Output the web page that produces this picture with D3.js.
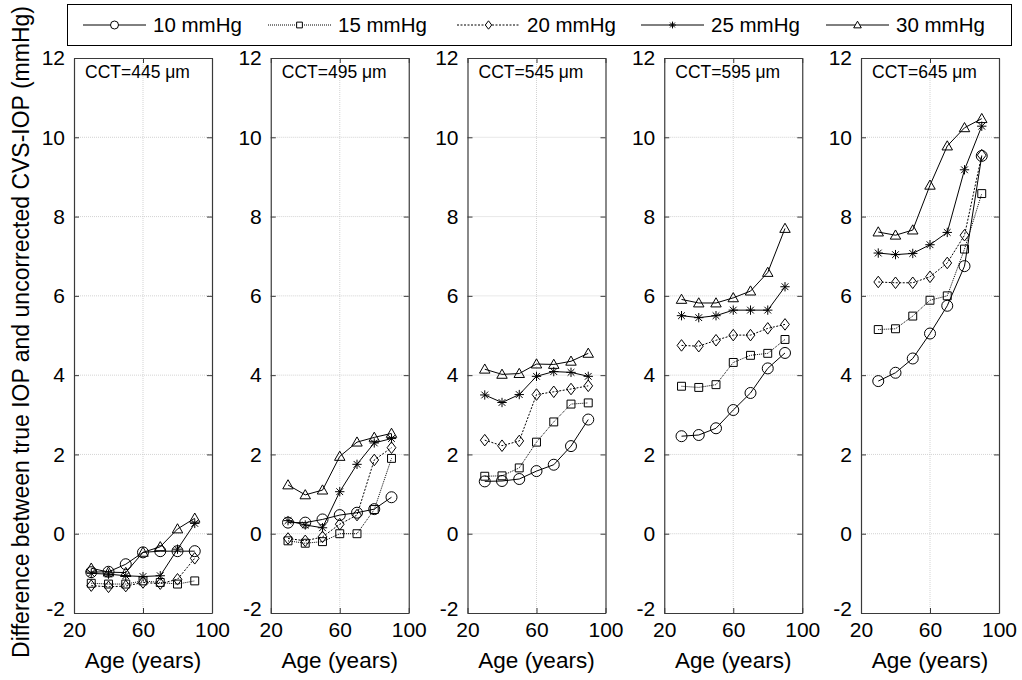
<!DOCTYPE html>
<html>
<head>
<meta charset="utf-8">
<script src="https://cdn.jsdelivr.net/npm/d3@7"></script>
<style>
  html, body { margin: 0; padding: 0; background: #fff; }
  svg { display: block; font-family: "Liberation Sans", Arial, sans-serif; }
</style>
</head>
<body>
<svg id="chart" width="1022" height="680"></svg>
<script>
// Ages at which the difference was evaluated
const ages = [30, 40, 50, 60, 70, 80, 90];

// Central corneal thickness of each panel (µm)
const cctValues = [445, 495, 545, 595, 645];

// True IOP levels (legend entries)
const pressureLabels = ["10 mmHg", "15 mmHg", "20 mmHg", "25 mmHg", "30 mmHg"];

// Difference between true IOP and uncorrected CVS-IOP (mmHg), one array per CCT panel,
// rows in the order 10, 15, 20, 25, 30 mmHg
const cct445 = [
  [-0.97, -0.96, -0.77, -0.47, -0.44, -0.44, -0.44],
  [-1.25, -1.27, -1.27, -1.19, -1.23, -1.27, -1.19],
  [-1.31, -1.34, -1.32, -1.23, -1.26, -1.15, -0.62],
  [-1.0, -1.02, -1.06, -1.08, -1.06, -0.39, 0.26],
  [-0.87, -0.97, -0.98, -0.47, -0.33, 0.12, 0.39]
];
const cct495 = [
  [0.28, 0.28, 0.36, 0.47, 0.53, 0.62, 0.92],
  [-0.18, -0.24, -0.2, 0.0, 0.0, 0.61, 1.9],
  [-0.12, -0.18, -0.08, 0.24, 0.47, 1.86, 2.17],
  [0.33, 0.22, 0.15, 1.06, 1.75, 2.29, 2.4],
  [1.23, 0.98, 1.1, 1.95, 2.31, 2.43, 2.53]
];
const cct545 = [
  [1.32, 1.33, 1.38, 1.58, 1.74, 2.21, 2.88],
  [1.45, 1.46, 1.66, 2.31, 2.82, 3.27, 3.3],
  [2.36, 2.22, 2.34, 3.51, 3.58, 3.65, 3.73],
  [3.5, 3.31, 3.51, 3.97, 4.09, 4.07, 3.97],
  [4.15, 4.02, 4.04, 4.28, 4.27, 4.35, 4.55]
];
const cct595 = [
  [2.46, 2.49, 2.66, 3.12, 3.55, 4.17, 4.56],
  [3.72, 3.69, 3.76, 4.32, 4.5, 4.55, 4.9],
  [4.75, 4.73, 4.88, 5.01, 5.01, 5.18, 5.28],
  [5.5, 5.45, 5.5, 5.64, 5.64, 5.64, 6.23],
  [5.91, 5.82, 5.82, 5.95, 6.12, 6.59, 7.7]
];
const cct645 = [
  [3.85, 4.06, 4.42, 5.05, 5.75, 6.75, 9.53],
  [5.15, 5.17, 5.49, 5.89, 6.0, 7.18, 8.58],
  [6.35, 6.33, 6.33, 6.48, 6.83, 7.53, 9.55],
  [7.08, 7.04, 7.07, 7.29, 7.6, 9.18, 10.28],
  [7.61, 7.53, 7.66, 8.79, 9.78, 10.24, 10.47]
];
const panelData = [cct445, cct495, cct545, cct595, cct645];

// Axis ticks
const xTicks = [20, 60, 100];
const yTicks = [-2, 0, 2, 4, 6, 8, 10, 12];

// Line and marker style per pressure level
const dashes = [null, "1,1", "2,1.5", null, null];
const markers = ["circle", "square", "diamond", "star", "triangle"];

const svg = d3.select("#chart");
const axisColor = "#3a3a3a";
const fontFamily = "'Liberation Sans', Arial, sans-serif";

// Marker path builders (unfilled, as in the plotting program's default)
function markerPath(type, s) {
  const p = d3.path();
  if (type === "circle") {
    p.moveTo(s, 0); p.arc(0, 0, s, 0, 2 * Math.PI);
  } else if (type === "square") {
    const h = s * 0.72;
    p.rect(-h, -h, 2 * h, 2 * h);
  } else if (type === "diamond") {
    const w = s * 0.8, hgt = s * 1.05;
    p.moveTo(0, -hgt); p.lineTo(w, 0); p.lineTo(0, hgt); p.lineTo(-w, 0); p.closePath();
  } else if (type === "triangle") {
    const w = s * 0.95, hgt = s * 0.95;
    p.moveTo(0, -hgt); p.lineTo(w, hgt * 0.75); p.lineTo(-w, hgt * 0.75); p.closePath();
  } else if (type === "star") {
    const r = s * 0.85, d = r * 0.72;
    p.moveTo(-r, 0); p.lineTo(r, 0);
    p.moveTo(0, -r); p.lineTo(0, r);
    p.moveTo(-d, -d); p.lineTo(d, d);
    p.moveTo(-d, d); p.lineTo(d, -d);
  }
  return p.toString();
}

// Panel geometry
const panelTop = 58, panelBottom = 613, panelWidth = 138;
const panelLefts = cctValues.map((_, i) => 74 + i * 196.75);

const y = d3.scaleLinear().domain([-2, 12]).range([panelBottom, panelTop]);
const plainInt = d => String(d);   // hyphen-minus, not the typographic minus

panelData.forEach((series, pi) => {
  const left = panelLefts[pi];
  const x = d3.scaleLinear().domain([20, 100]).range([left, left + panelWidth]);
  const g = svg.append("g");

  // Grid
  g.selectAll(".gy").data(yTicks.slice(1, -1)).join("line")
    .attr("x1", left).attr("x2", left + panelWidth)
    .attr("y1", d => y(d)).attr("y2", d => y(d))
    .attr("stroke", "#c8c8c8").attr("stroke-width", 0.8).attr("stroke-dasharray", "1,1");
  g.selectAll(".gx").data(xTicks.slice(1, -1)).join("line")
    .attr("x1", d => x(d)).attr("x2", d => x(d))
    .attr("y1", panelTop).attr("y2", panelBottom)
    .attr("stroke", "#c8c8c8").attr("stroke-width", 0.8).attr("stroke-dasharray", "1,1");

  // Axes (left & bottom with labels, right & top mirrored ticks)
  const yAxisL = d3.axisLeft(y).tickValues(yTicks).tickSizeInner(-5).tickSizeOuter(0).tickPadding(9).tickFormat(plainInt);
  const yAxisR = d3.axisRight(y).tickValues(yTicks).tickSizeInner(-5).tickSizeOuter(0).tickFormat("");
  const xAxisB = d3.axisBottom(x).tickValues(xTicks).tickSizeInner(-5).tickSizeOuter(0).tickPadding(10).tickFormat(plainInt);
  const xAxisT = d3.axisTop(x).tickValues(xTicks).tickSizeInner(-5).tickSizeOuter(0).tickFormat("");

  const gl = g.append("g").attr("transform", `translate(${left},0)`).call(yAxisL);
  const gr = g.append("g").attr("transform", `translate(${left + panelWidth},0)`).call(yAxisR);
  const gb = g.append("g").attr("transform", `translate(0,${panelBottom})`).call(xAxisB);
  const gt = g.append("g").attr("transform", `translate(0,${panelTop})`).call(xAxisT);
  [gl, gr, gb, gt].forEach(a => {
    a.selectAll("path").attr("stroke", axisColor).attr("stroke-width", 1.2);
    a.selectAll("line").attr("stroke", axisColor).attr("stroke-width", 1);
    a.selectAll("text").attr("fill", "#000").attr("font-size", 21)
      .attr("font-family", fontFamily);
  });
  gl.selectAll(".tick text").filter(d => d === -2).attr("dy", "0.1em");
  gb.selectAll(".tick text").attr("dy", "0.68em");

  // Panel title
  g.append("text").attr("x", left + 11).attr("y", 78)
    .attr("font-size", 17.5).attr("fill", "#000").text(`CCT=${cctValues[pi]} μm`);

  // X label
  g.append("text").attr("x", left + panelWidth / 2).attr("y", 668)
    .attr("text-anchor", "middle").attr("font-size", 22.5).attr("fill", "#000")
    .text("Age (years)");

  // Series
  const line = d3.line().x((d, i) => x(ages[i])).y(d => y(d));
  series.forEach((vals, si) => {
    g.append("path").attr("d", line(vals)).attr("fill", "none")
      .attr("stroke", "#000").attr("stroke-width", 1)
      .attr("stroke-dasharray", dashes[si]);
    g.selectAll(null).data(vals).join("path")
      .attr("transform", (d, i) => `translate(${x(ages[i])},${y(d)})`)
      .attr("d", markerPath(markers[si], 5.5))
      .attr("fill", "none").attr("stroke", "#000").attr("stroke-width", 1);
  });
});

// Y axis title
svg.append("text")
  .attr("transform", "translate(29,332) rotate(-90)")
  .attr("text-anchor", "middle").attr("font-size", 23).attr("fill", "#000")
  .text("Difference between true IOP and uncorrected CVS-IOP (mmHg)");

// Legend
const legend = svg.append("g");
legend.append("rect").attr("x", 67.5).attr("y", 4.5).attr("width", 944).attr("height", 41)
  .attr("fill", "#fff").attr("stroke", "#000").attr("stroke-width", 1);
const legendStarts = [83, 268, 457, 641, 826];
pressureLabels.forEach((lab, i) => {
  const lx = legendStarts[i], ly = 25;
  legend.append("line").attr("x1", lx).attr("x2", lx + 63).attr("y1", ly).attr("y2", ly)
    .attr("stroke", "#000").attr("stroke-width", 1).attr("stroke-dasharray", dashes[i]);
  legend.append("path").attr("transform", `translate(${lx + 31.5},${ly})`)
    .attr("d", markerPath(markers[i], 4)).attr("fill", "#fff")
    .attr("stroke", "#000").attr("stroke-width", 1);
  legend.append("text").attr("x", lx + 70).attr("y", ly).attr("dy", "0.36em")
    .attr("font-size", 20.5).attr("fill", "#000").text(lab);
});
</script>
</body>
</html>
